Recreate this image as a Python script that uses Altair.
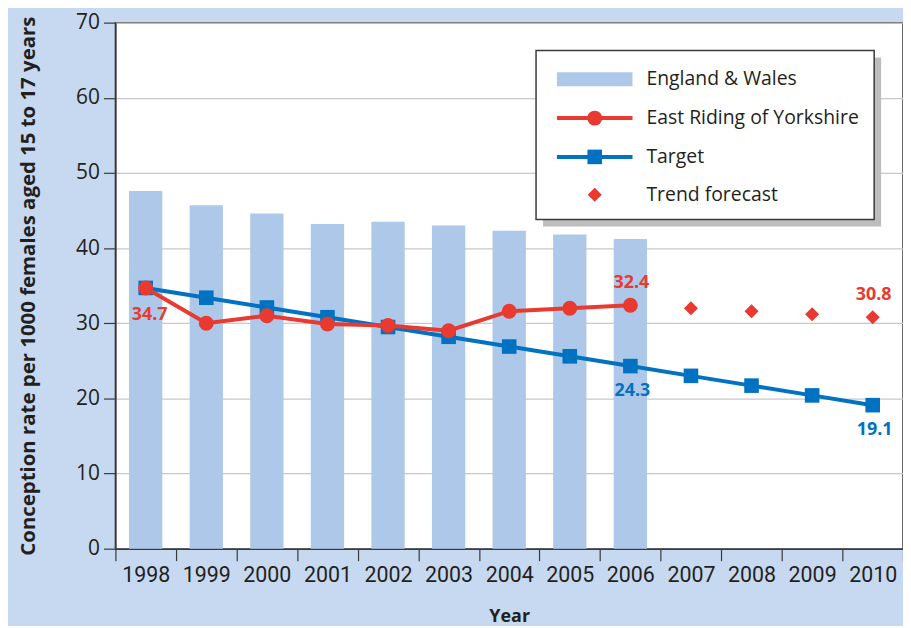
import altair as alt
import pandas as pd

# ---- data ----
years = ["1998", "1999", "2000", "2001", "2002", "2003", "2004",
         "2005", "2006", "2007", "2008", "2009", "2010"]
england_wales = [47.6, 45.7, 44.6, 43.2, 43.5, 43.0, 42.3, 41.8, 41.2]          # 1998-2006
east_riding = [34.7, 30.0, 31.0, 29.9, 29.7, 29.0, 31.6, 32.0, 32.4]            # 1998-2006
target = [34.7, 33.4, 32.1, 30.8, 29.5, 28.2, 26.9, 25.6, 24.3, 23.0, 21.7, 20.4, 19.1]
trend_years = ["2007", "2008", "2009", "2010"]
trend = [32.0, 31.6, 31.2, 30.8]
legend_labels = ["England & Wales", "East Riding of Yorkshire", "Target", "Trend forecast"]

BG = "#c6d9f1"
BAR = "#adc8e8"
RED = "#e83a30"
BLUE = "#0072c1"
TXT = "#231f20"
FRAME = "#3a3a3a"

bars_df = pd.DataFrame({"year": years[:len(england_wales)], "value": england_wales})
red_df = pd.DataFrame({"year": years[:len(east_riding)], "value": east_riding})
tgt_df = pd.DataFrame({"year": years, "value": target})
trend_df = pd.DataFrame({"year": trend_years, "value": trend})

red_below = red_df[red_df.year == "1998"]
red_above = pd.concat([red_df[red_df.year == "2006"], trend_df[trend_df.year == "2010"]])
blue_below = tgt_df[tgt_df.year.isin(["2006", "2010"])]

x_enc = alt.X(
    "year:O",
    scale=alt.Scale(domain=years, paddingInner=0, paddingOuter=0),
    axis=alt.Axis(
        title="Year", labelAngle=0, tickBand="extent", tickSize=12,
        tickColor=FRAME, domainColor=FRAME, domainWidth=1.5, tickWidth=1.2,
        labelFont="Roboto", labelFontSize=21.5, labelColor=TXT,
        labelPadding=4, titleFont="Open Sans", titleFontSize=18,
        titleFontWeight="bold", titleColor=TXT, titlePadding=22,
    ),
)
y_enc = alt.Y(
    "value:Q",
    scale=alt.Scale(domain=[0, 70], nice=False),
    axis=alt.Axis(
        title="Conception rate per 1000 females aged 15 to 17 years",
        values=[0, 10, 20, 30, 40, 50, 60, 70], tickSize=12,
        tickColor=FRAME, domainColor=FRAME, domainWidth=1.5, tickWidth=1.2,
        grid=True, gridColor="#c8c8c8", gridWidth=1.2,
        labelFont="Open Sans", labelFontSize=21, labelColor=TXT, labelPadding=4,
        titleFont="Open Sans", titleFontSize=20.5, titleFontWeight="bold",
        titleColor=TXT, titlePadding=37,
    ),
)

bars = alt.Chart(bars_df).mark_bar(color=BAR, width=alt.RelativeBandSize(0.55)).encode(x=x_enc, y=y_enc)
tgt_line = alt.Chart(tgt_df).mark_line(color=BLUE, strokeWidth=4).encode(x=x_enc, y=y_enc)
tgt_pts = alt.Chart(tgt_df).mark_point(shape="square", filled=True, size=215, color=BLUE, opacity=1).encode(x=x_enc, y=y_enc)
red_line = alt.Chart(red_df).mark_line(color=RED, strokeWidth=4).encode(x=x_enc, y=y_enc)
red_pts = alt.Chart(red_df).mark_point(shape="circle", filled=True, size=225, color=RED, opacity=1).encode(x=x_enc, y=y_enc)
trend_pts = alt.Chart(trend_df).mark_point(shape="diamond", filled=True, size=200, color=RED, opacity=1).encode(x=x_enc, y=y_enc)


def labels(df, color, dx, dy):
    return alt.Chart(df).mark_text(
        font="Open Sans", fontSize=18, fontWeight="bold", color=color, dx=dx, dy=dy
    ).encode(x=x_enc, y=y_enc, text=alt.Text("value:Q", format=".1f"))


lab1 = labels(red_below, RED, 4, 27)
lab2 = labels(red_above, RED, 1, -22)
lab3 = labels(blue_below, BLUE, 2, 25)

# ---- legend (drawn manually) ----
one = alt.Data(values=[{"k": 1}])
LX0, LX1, LY0, LY1 = 423, 763, 28, 198
shadow = alt.Chart(one).mark_rect(color="#bdbdbd").encode(
    x=alt.value(LX0 + 7), x2=alt.value(LX1 + 7), y=alt.value(LY0 + 7), y2=alt.value(LY1 + 7))
box = alt.Chart(one).mark_rect(fill="white", stroke=FRAME, strokeWidth=1.5).encode(
    x=alt.value(LX0), x2=alt.value(LX1), y=alt.value(LY0), y2=alt.value(LY1))

rows = [57, 96, 135, 173]
SX0, SX1, SXC, TX = 444, 520, 482, 534
leg = [shadow, box]
leg.append(alt.Chart(one).mark_rect(color=BAR).encode(
    x=alt.value(SX0), x2=alt.value(SX1), y=alt.value(rows[0] - 7), y2=alt.value(rows[0] + 7)))
leg.append(alt.Chart(one).mark_rule(color=RED, strokeWidth=4).encode(
    x=alt.value(SX0), x2=alt.value(SX1), y=alt.value(rows[1])))
leg.append(alt.Chart(one).mark_point(shape="circle", filled=True, size=225, color=RED, opacity=1).encode(
    x=alt.value(SXC), y=alt.value(rows[1])))
leg.append(alt.Chart(one).mark_rule(color=BLUE, strokeWidth=4).encode(
    x=alt.value(SX0), x2=alt.value(SX1), y=alt.value(rows[2])))
leg.append(alt.Chart(one).mark_point(shape="square", filled=True, size=215, color=BLUE, opacity=1).encode(
    x=alt.value(SXC), y=alt.value(rows[2])))
leg.append(alt.Chart(one).mark_point(shape="diamond", filled=True, size=200, color=RED, opacity=1).encode(
    x=alt.value(SXC), y=alt.value(rows[3])))
for lbl, yy in zip(legend_labels, rows):
    leg.append(alt.Chart(one).mark_text(
        align="left", baseline="middle", font="Open Sans", fontSize=19.5, color=TXT
    ).encode(x=alt.value(TX), y=alt.value(yy), text=alt.value(lbl)))

chart = alt.layer(
    bars, tgt_line, tgt_pts, red_line, red_pts, trend_pts, lab1, lab2, lab3, *leg
).properties(
    width=792, height=529,
    background=BG,
    padding={"left": 108, "top": 13, "right": 0, "bottom": 76},
    autosize=alt.AutoSizeParams(type="none"),
).configure_view(
    fill="white", stroke=FRAME, strokeWidth=1.5
)

chart.save("out.html", embed_options={"renderer": "svg", "actions": False})
